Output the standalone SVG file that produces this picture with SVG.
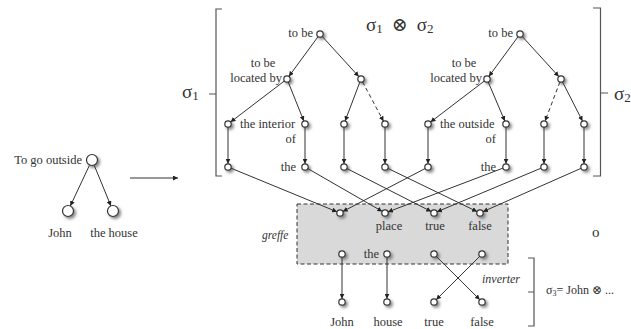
<svg xmlns="http://www.w3.org/2000/svg" width="631" height="329" viewBox="0 0 631 329">
  <defs>
    <marker id="arr" viewBox="0 0 10 10" refX="10" refY="5" markerWidth="5" markerHeight="5" orient="auto" markerUnits="userSpaceOnUse">
      <path d="M0,0 L10,5 L0,10 z" fill="#222"/>
    </marker>
    <filter id="shadow" x="-100%" y="-100%" width="300%" height="300%">
      <feDropShadow dx="2" dy="2" stdDeviation="1.4" flood-color="#666" flood-opacity="0.8"/>
    </filter>
  </defs>
  <style>
    text { font-family: "Liberation Serif", "DejaVu Serif", serif; fill: #333; }
    .lbl { font-size: 12.5px; }
    .end { text-anchor: end; }
    .mid { text-anchor: middle; }
    .it { font-style: italic; font-size: 11.5px; }
    .sig { font-size: 19px; }
    .sub { font-size: 13px; }
    .n { fill: #fff; stroke: #333; stroke-width: 1.2; filter: url(#shadow); }
    .e { stroke: #333; stroke-width: 1; fill: none; marker-end: url(#arr); }
    .d { stroke-dasharray: 4 3; }
    .br { stroke: #555; stroke-width: 1.2; fill: none; }
    .box { fill: #d9d9d9; stroke: #333; stroke-width: 1; stroke-dasharray: 4 2.5; }
  </style>

  <!-- source tree: To go outside (John, the house) -->
  <g id="src-root"><circle class="n" cx="92" cy="160" r="5.5"/><text class="lbl end" x="82" y="164">To go outside</text></g>
  <g id="src-john"><circle class="n" cx="68" cy="211" r="5.5"/><text class="lbl mid" x="60" y="237">John</text></g>
  <g id="src-house"><circle class="n" cx="113" cy="211" r="5.5"/><text class="lbl mid" x="114" y="237">the house</text></g>

  <!-- brackets and sigma labels -->
  <g id="sigma1">
    <path class="br" d="M222,9 H216 V176 H222 M216,94 H209"/>
    <text class="sig" x="182" y="98">σ<tspan class="sub" dy="2">1</tspan></text>
  </g>
  <g id="sigma2">
    <path class="br" d="M593,8 H600.5 V176 H593 M600.5,93 H608"/>
    <text class="sig" x="614" y="100">σ<tspan class="sub" dy="2">2</tspan></text>
  </g>
  <g id="product">
    <text class="sig" x="366" y="31">σ<tspan class="sub" dy="2">1</tspan><tspan dy="-2" dx="9">⊗</tspan><tspan dx="9">σ</tspan><tspan class="sub" dy="2">2</tspan></text>
  </g>
  <g id="sigma3">
    <path class="br" d="M528,258 H534 V326 H528 M534,292 H528"/>
    <text class="lbl" x="546" y="294" style="font-size:12px">σ<tspan style="font-size:8px" dy="2">3</tspan><tspan dy="-2">= John ⊗ ...</tspan></text>
  </g>
  <g id="o-sign"><text x="592" y="237" style="font-size:15px">o</text></g>

  <!-- left tree (sigma 1) -->
  <g id="l-root"><circle class="n" cx="320" cy="34" r="3.2"/><text class="lbl end" x="313" y="37">to be</text></g>
  <g id="l-loc"><circle class="n" cx="287" cy="79" r="3.2"/><text class="lbl mid" x="263" y="67">to be</text><text class="lbl end" x="282" y="82">located by</text></g>
  <g id="l-r"><circle class="n" cx="361" cy="79" r="3.2"/></g>
  <g id="l-a3"><circle class="n" cx="228" cy="124" r="3.2"/></g>
  <g id="l-b3"><circle class="n" cx="305" cy="124" r="3.2"/><text class="lbl" x="240" y="128">the interior</text><text class="lbl end" x="296" y="143">of</text></g>
  <g id="l-c3"><circle class="n" cx="344" cy="124" r="3.2"/></g>
  <g id="l-d3"><circle class="n" cx="385" cy="124" r="3.2"/></g>
  <g id="l-a4"><circle class="n" cx="228" cy="167" r="3.2"/></g>
  <g id="l-b4"><circle class="n" cx="305" cy="167" r="3.2"/><text class="lbl end" x="296" y="171">the</text></g>
  <g id="l-c4"><circle class="n" cx="344" cy="167" r="3.2"/></g>
  <g id="l-d4"><circle class="n" cx="385" cy="167" r="3.2"/></g>

  <!-- right tree (sigma 2) -->
  <g id="r-root"><circle class="n" cx="520" cy="34" r="3.2"/><text class="lbl end" x="513" y="37">to be</text></g>
  <g id="r-loc"><circle class="n" cx="487" cy="79" r="3.2"/><text class="lbl mid" x="464" y="67">to be</text><text class="lbl end" x="482" y="82">located by</text></g>
  <g id="r-r"><circle class="n" cx="561" cy="79" r="3.2"/></g>
  <g id="r-a3"><circle class="n" cx="428" cy="124" r="3.2"/></g>
  <g id="r-b3"><circle class="n" cx="506" cy="124" r="3.2"/><text class="lbl" x="440" y="128">the outside</text><text class="lbl end" x="496" y="143">of</text></g>
  <g id="r-c3"><circle class="n" cx="544" cy="124" r="3.2"/></g>
  <g id="r-d3"><circle class="n" cx="584" cy="124" r="3.2"/></g>
  <g id="r-a4"><circle class="n" cx="428" cy="167" r="3.2"/></g>
  <g id="r-b4"><circle class="n" cx="506" cy="167" r="3.2"/><text class="lbl end" x="496" y="171">the</text></g>
  <g id="r-c4"><circle class="n" cx="544" cy="167" r="3.2"/></g>
  <g id="r-d4"><circle class="n" cx="584" cy="167" r="3.2"/></g>

  <!-- graft box -->
  <g id="greffe">
    <rect class="box" x="297" y="204" width="211" height="60"/>
    <text class="it" x="262" y="239">greffe</text>
  </g>
  <g id="g-1"><circle class="n" cx="340" cy="213" r="3.2"/></g>
  <g id="g-place"><circle class="n" cx="385" cy="213" r="3.2"/><text class="lbl mid" x="389" y="230">place</text></g>
  <g id="g-true"><circle class="n" cx="434" cy="213" r="3.2"/><text class="lbl mid" x="435" y="230">true</text></g>
  <g id="g-false"><circle class="n" cx="480" cy="213" r="3.2"/><text class="lbl mid" x="480" y="230">false</text></g>
  <g id="g-b1"><circle class="n" cx="342" cy="254" r="3.2"/></g>
  <g id="g-the"><circle class="n" cx="387" cy="254" r="3.2"/><text class="lbl end" x="379" y="258">the</text></g>
  <g id="g-b3"><circle class="n" cx="434" cy="254" r="3.2"/></g>
  <g id="g-b4"><circle class="n" cx="482" cy="254" r="3.2"/></g>
  <g id="inverter-label"><text class="it" x="482" y="283" style="font-size:12px">inverter</text></g>

  <!-- result leaves -->
  <g id="o-john"><circle class="n" cx="342" cy="302" r="3.2"/><text class="lbl mid" x="342" y="326">John</text></g>
  <g id="o-house"><circle class="n" cx="387" cy="302" r="3.2"/><text class="lbl mid" x="388" y="326">house</text></g>
  <g id="o-true"><circle class="n" cx="434" cy="302" r="3.2"/><text class="lbl mid" x="434" y="326">true</text></g>
  <g id="o-false"><circle class="n" cx="482" cy="302" r="3.2"/><text class="lbl mid" x="482" y="326">false</text></g>

  <!-- connectors -->
  <g id="connectors">
    <line class="e" x1="89.4" y1="165.4" x2="70.3" y2="206"/>
    <line class="e" x1="94.3" y1="165.5" x2="110.9" y2="205.9"/>
    <line class="e" x1="130" y1="178" x2="178" y2="178"/>

    <line class="e" x1="318.1" y1="36.6" x2="288.9" y2="76.4"/>
    <line class="e" x1="322.2" y1="36.4" x2="358.8" y2="76.6"/>
    <line class="e" x1="284.5" y1="80.9" x2="230.5" y2="122.1"/>
    <line class="e" x1="288.2" y1="82" x2="303.8" y2="121"/>
    <line class="e" x1="359.9" y1="82" x2="345.1" y2="121"/>
    <line class="e d" x1="362.5" y1="81.8" x2="383.5" y2="121.2"/>
    <line class="e" x1="228" y1="127.2" x2="228" y2="163.8"/>
    <line class="e" x1="305" y1="127.2" x2="305" y2="163.8"/>
    <line class="e" x1="344" y1="127.2" x2="344" y2="163.8"/>
    <line class="e" x1="385" y1="127.2" x2="385" y2="163.8"/>

    <line class="e" x1="518.1" y1="36.6" x2="488.9" y2="76.4"/>
    <line class="e" x1="522.2" y1="36.4" x2="558.8" y2="76.6"/>
    <line class="e" x1="484.5" y1="80.9" x2="430.5" y2="122.1"/>
    <line class="e" x1="488.2" y1="82" x2="504.8" y2="121"/>
    <line class="e d" x1="559.9" y1="82" x2="545.1" y2="121"/>
    <line class="e" x1="562.5" y1="81.9" x2="582.5" y2="121.1"/>
    <line class="e" x1="428" y1="127.2" x2="428" y2="163.8"/>
    <line class="e" x1="506" y1="127.2" x2="506" y2="163.8"/>
    <line class="e" x1="544" y1="127.2" x2="544" y2="163.8"/>
    <line class="e" x1="584" y1="127.2" x2="584" y2="163.8"/>

    <line class="e" x1="231" y1="168.2" x2="337" y2="211.8"/>
    <line class="e" x1="425.2" y1="168.5" x2="342.8" y2="211.5"/>
    <line class="e" x1="307.8" y1="168.6" x2="382.2" y2="211.4"/>
    <line class="e" x1="503" y1="168.1" x2="388" y2="211.9"/>
    <line class="e" x1="346.8" y1="168.5" x2="431.2" y2="211.5"/>
    <line class="e" x1="541" y1="168.2" x2="437" y2="211.8"/>
    <line class="e" x1="387.9" y1="168.4" x2="477.1" y2="211.6"/>
    <line class="e" x1="581.1" y1="168.3" x2="482.9" y2="211.7"/>

    <line class="e" x1="342" y1="257.2" x2="342" y2="298.8"/>
    <line class="e" x1="387" y1="257.2" x2="387" y2="298.8"/>
    <line class="e" x1="436.2" y1="256.3" x2="479.8" y2="299.7"/>
    <line class="e" x1="479.8" y1="256.3" x2="436.2" y2="299.7"/>
  </g>
</svg>
